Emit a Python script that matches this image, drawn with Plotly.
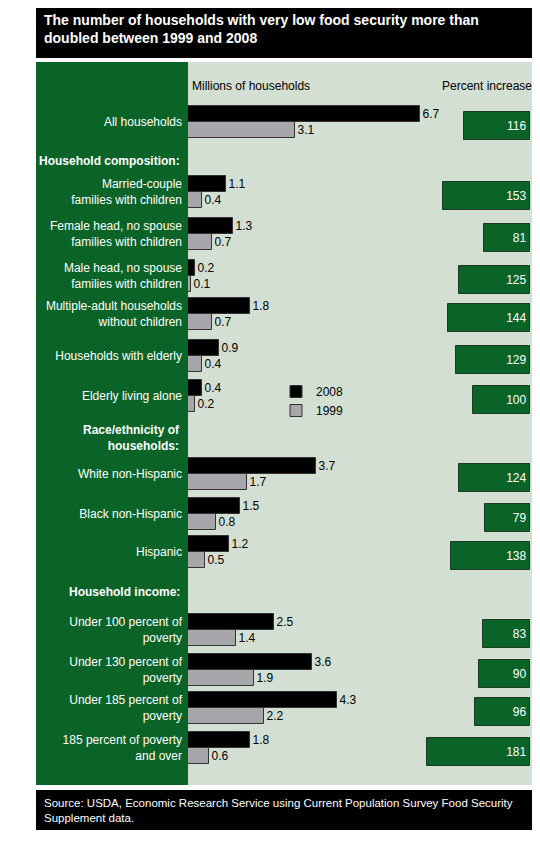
import plotly.graph_objects as go

categories = ["All households", "Married-couple<br>families with children", "Female head, no spouse<br>families with children",
              "Male head, no spouse<br>families with children", "Multiple-adult households<br>without children",
              "Households with elderly", "Elderly living alone", "White non-Hispanic", "Black non-Hispanic", "Hispanic",
              "Under 100 percent of<br>poverty", "Under 130 percent of<br>poverty", "Under 185 percent of<br>poverty",
              "185 percent of poverty<br>and over"]
row_pos = [0, 1.75, 2.8, 3.85, 4.8, 5.85, 6.85, 8.8, 9.8, 10.75, 12.7, 13.7, 14.65, 15.65]
v2008 = [6.7, 1.1, 1.3, 0.2, 1.8, 0.9, 0.4, 3.7, 1.5, 1.2, 2.5, 3.6, 4.3, 1.8]
v1999 = [3.1, 0.4, 0.7, 0.1, 0.7, 0.4, 0.2, 1.7, 0.8, 0.5, 1.4, 1.9, 2.2, 0.6]
pct = [116, 153, 81, 125, 144, 129, 100, 124, 79, 138, 83, 90, 96, 181]
headers = ["Household composition:", "Race/ethnicity of<br>households:", "Household income:"]
header_pos = [0.975, 7.9, 11.75]

OFF = 8
W, H = 540 - 2 * OFF, 841 - 2 * OFF
px = lambda x: (x - OFF) / W
py = lambda y: 1 - (y - OFF) / H
F = "Liberation Sans, Arial, sans-serif"

fig = go.Figure()
fig.add_bar(y=row_pos, x=v2008, orientation="h", name="2008", marker=dict(color="black", line=dict(color="#333", width=1)),
            width=0.4, offset=-0.4, text=[f"{v:.1f}" for v in v2008], textposition="outside",
            textfont=dict(size=12, color="black"), cliponaxis=False)
fig.add_bar(y=row_pos, x=v1999, orientation="h", name="1999", marker=dict(color="#a7a7ab", line=dict(color="#333", width=1)),
            width=0.4, offset=0, text=[f"{v:.1f}" for v in v1999], textposition="outside",
            textfont=dict(size=12, color="black"), cliponaxis=False)
fig.add_bar(y=row_pos, x=pct, orientation="h", xaxis="x2", showlegend=False,
            marker=dict(color="#0a6428", line=dict(color="#1b3a22", width=1)),
            width=0.7, offset=-0.25, text=[str(p) for p in pct], textposition="inside", insidetextanchor="start",
            textfont=dict(size=12, color="white"))

shapes = [
    dict(type="rect", xref="paper", yref="paper", x0=px(36), x1=px(540), y0=py(58), y1=py(0), fillcolor="black", line_width=0, layer="below"),
    dict(type="rect", xref="paper", yref="paper", x0=px(36), x1=px(188), y0=py(785), y1=py(62), fillcolor="#0a6428", line_width=0, layer="below"),
    dict(type="rect", xref="paper", yref="paper", x0=px(188), x1=px(537), y0=py(785), y1=py(62), fillcolor="#d2dfd2", line_width=0, layer="below"),
    dict(type="rect", xref="paper", yref="paper", x0=px(36), x1=px(540), y0=py(830), y1=py(790), fillcolor="black", line_width=0, layer="below"),
]
ann = [
    dict(x=px(42), y=py(29), xref="paper", yref="paper", xanchor="left", yanchor="middle", align="left", showarrow=False,
         text="<b>The number of households with very low food security more than<br>doubled between 1999 and 2008</b>",
         font=dict(size=14, color="white", family=F)),
    dict(x=px(42), y=py(810), xref="paper", yref="paper", xanchor="left", yanchor="middle", align="left", showarrow=False,
         text="Source: USDA, Economic Research Service using Current Population Survey Food Security<br>Supplement data.",
         font=dict(size=11.5, color="white", family=F)),
    dict(x=px(190), y=py(86), xref="paper", yref="paper", xanchor="left", yanchor="middle", showarrow=False,
         text="Millions of households", font=dict(size=12, color="black", family=F)),
    dict(x=px(534), y=py(86), xref="paper", yref="paper", xanchor="right", yanchor="middle", showarrow=False,
         text="Percent increase", font=dict(size=12, color="black", family=F)),
]
for h, p in zip(headers, header_pos):
    ann.append(dict(x=px(182), y=p, xref="paper", yref="y", xanchor="right", yanchor="middle", align="right", showarrow=False,
                    text=f"<b>{h}</b>", font=dict(size=12, color="white", family=F)))

fig.update_layout(
    width=W, height=H, margin=dict(l=0, r=0, t=0, b=0), paper_bgcolor="white", plot_bgcolor="rgba(0,0,0,0)",
    font=dict(family=F, size=12), shapes=shapes, annotations=ann, bargap=0,
    xaxis=dict(domain=[px(188), px(430)], range=[0, 7], visible=False),
    xaxis2=dict(domain=[px(416), px(530)], range=[200, 0], visible=False, anchor="y"),
    yaxis=dict(domain=[py(785), py(62)], range=[16.575, -1.5], tickvals=row_pos, ticktext=categories,
               tickfont=dict(size=12, color="white"), ticks="", showgrid=False, zeroline=False, showline=False, ticklabelstandoff=5),
    legend=dict(x=px(276), y=py(377), xanchor="left", yanchor="top", bgcolor="rgba(0,0,0,0)", font=dict(size=12, color="black"),
                traceorder="normal", tracegroupgap=4),
)
fig.write_html("out.html")
